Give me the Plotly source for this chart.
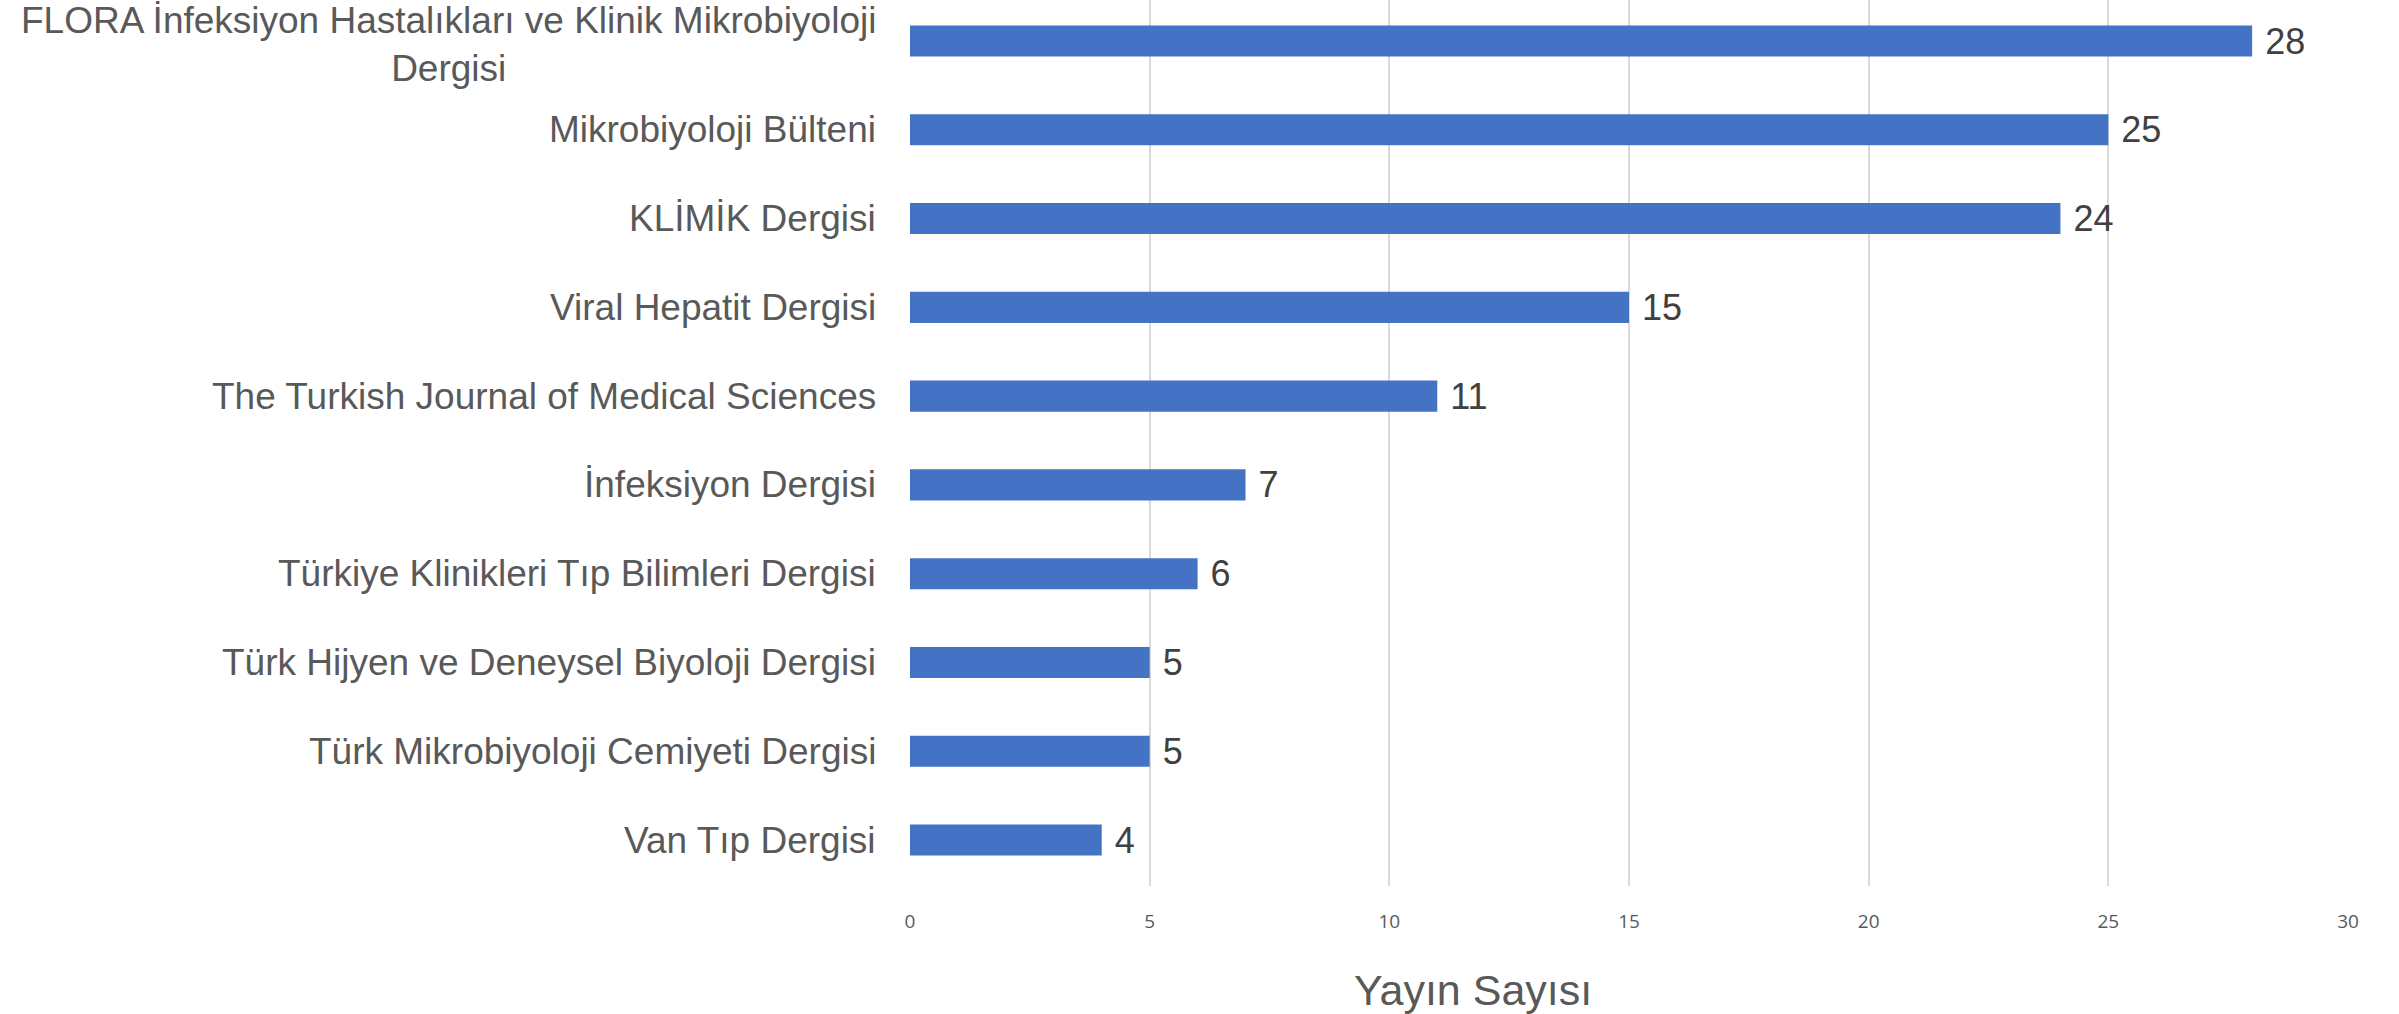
import plotly.graph_objects as go

# journals and number of publications, top to bottom
journals = [
    "FLORA İnfeksiyon Hastalıkları ve Klinik Mikrobiyoloji<br>Dergisi",
    "Mikrobiyoloji Bülteni",
    "KLİMİK Dergisi",
    "Viral Hepatit Dergisi",
    "The Turkish Journal of Medical Sciences",
    "İnfeksiyon Dergisi",
    "Türkiye Klinikleri Tıp Bilimleri Dergisi",
    "Türk Hijyen ve Deneysel Biyoloji Dergisi",
    "Türk Mikrobiyoloji Cemiyeti Dergisi",
    "Van Tıp Dergisi",
]
counts = [28, 25, 24, 15, 11, 7, 6, 5, 5, 4]
x_ticks = [0, 5, 10, 15, 20, 25, 30]
x_title = "Yayın Sayısı"

cats = [str(i) for i in range(len(journals))]

fig = go.Figure()
fig.add_trace(go.Bar(
    x=counts,
    y=cats,
    orientation="h",
    marker=dict(color="#4472C4", line=dict(width=0)),
    text=["\u00a0" + str(c) for c in counts],
    textposition="outside",
    constraintext="none",
    textfont=dict(family="Arial", size=36, color="#404040"),
    cliponaxis=False,
    width=0.35,
))

# category labels as annotations so the wrapped one can be centred
for c, name in zip(cats, journals):
    fig.add_annotation(
        x=0, y=c, xref="x", yref="y",
        text=name, showarrow=False,
        xanchor="right", yanchor="middle", align="center",
        xshift=-32, yshift=-3 if "<br>" in name else 0,
        font=dict(family="Arial", size=37, color="#595959"),
    )

fig.add_annotation(
    x=0.3915, y=0, xref="paper", yref="paper",
    text=x_title, showarrow=False,
    xanchor="center", yanchor="middle", yshift=-104,
    font=dict(family="Arial", size=43, color="#595959"),
)

fig.update_xaxes(
    range=[0, 30],
    tickvals=x_ticks,
    showgrid=True, gridcolor="#d9d9d9", gridwidth=2,
    zeroline=False, showline=False,
    ticks="", ticklabelstandoff=22,
    tickfont=dict(family="Open Sans, Arial", size=19, color="#595959"),
)
fig.update_yaxes(
    range=[9.518, -0.462],
    showticklabels=False, showgrid=False, zeroline=False, showline=False,
)

fig.update_layout(
    width=2399, height=1014,
    margin=dict(l=910, r=51, t=0, b=128),
    plot_bgcolor="white", paper_bgcolor="white",
    showlegend=False,
)

# page body has a default margin, drop it so the chart sits at 0,0
fig.write_html("out.html", config={"displayModeBar": False},
               post_script="document.body.style.margin='0';")
